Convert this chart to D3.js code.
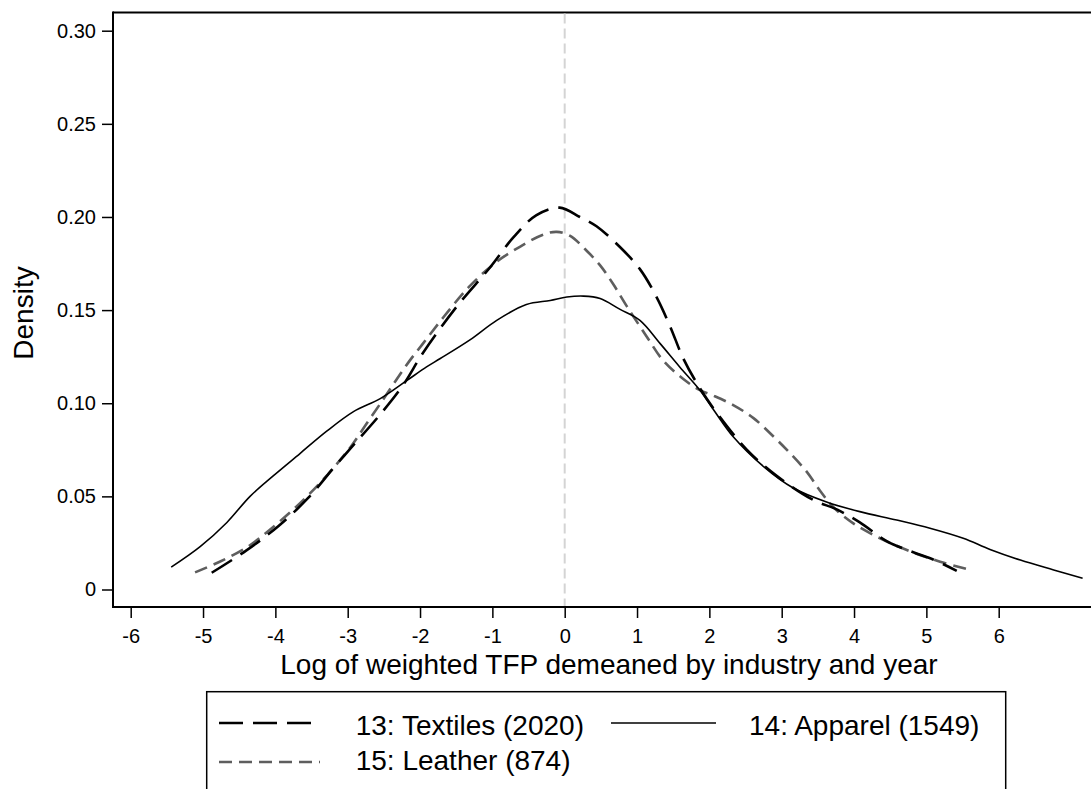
<!DOCTYPE html>
<html lang="en">
<head>
<meta charset="UTF-8">
<title>TFP density by industry</title>
<style>
  body { margin: 0; background: #fff; }
  text { font-family: "Liberation Sans", Arial, sans-serif; fill: #000; }
</style>
</head>
<body>
<svg id="chart"></svg>
<script src="https://cdnjs.cloudflare.com/ajax/libs/d3/7.8.5/d3.min.js"></script>
<script>
// kernel density estimates
const textilesX = [-4.88, -4.40, -3.96, -3.55, -3.18, -2.91, -2.55, -2.23, -1.96, -1.49, -1.03, -0.71, -0.39, -0.07,
  0.21, 0.44, 0.76, 1.04, 1.27, 1.46, 1.64, 1.87, 2.10, 2.52, 2.93, 3.44, 3.76, 4.08, 4.45, 4.82, 5.10, 5.42];
const textilesY = [0.009, 0.021, 0.034, 0.049, 0.066, 0.078, 0.094, 0.110, 0.127, 0.152, 0.173, 0.189, 0.201, 0.205,
  0.200, 0.195, 0.184, 0.172, 0.157, 0.141, 0.124, 0.108, 0.095, 0.075, 0.061, 0.048, 0.043, 0.036, 0.026, 0.020, 0.016, 0.010];

const apparelX = [-5.44, -5.04, -4.67, -4.35, -4.03, -3.66, -3.29, -2.92, -2.55, -2.19, -1.91, -1.72, -1.31, -0.94, -0.53,
  -0.20, 0.03, 0.26, 0.49, 0.76, 1.04, 1.32, 1.59, 1.87, 2.06, 2.33, 2.75, 3.16, 3.62, 4.08, 4.59, 5.05, 5.51, 5.88, 6.30, 6.76, 7.16];
const apparelY = [0.012, 0.023, 0.036, 0.050, 0.061, 0.073, 0.085, 0.0955, 0.1025, 0.112, 0.1195, 0.124, 0.134, 0.1445, 0.153,
  0.1552, 0.157, 0.1575, 0.1562, 0.1505, 0.1445, 0.132, 0.1195, 0.107, 0.0964, 0.082, 0.066, 0.0545, 0.047, 0.0418, 0.0373, 0.0329, 0.0275, 0.0215, 0.0158, 0.0105, 0.006];

const leatherX = [-5.11, -4.77, -4.40, -4.08, -3.71, -3.34, -2.97, -2.74, -2.51, -2.32, -2.14, -1.96, -1.68, -1.31, -0.94, -0.62,
  -0.30, -0.11, 0.07, 0.30, 0.49, 0.67, 0.86, 1.13, 1.36, 1.64, 1.87, 2.06, 2.33, 2.61, 2.89, 3.12, 3.35, 3.53, 3.72, 3.99, 4.36, 4.73, 5.19, 5.61];
const leatherY = [0.0092, 0.0149, 0.0225, 0.032, 0.0445, 0.059, 0.076, 0.089, 0.102, 0.113, 0.123, 0.132, 0.146, 0.163, 0.176, 0.184,
  0.1905, 0.192, 0.190, 0.182, 0.174, 0.164, 0.152, 0.136, 0.123, 0.113, 0.107, 0.104, 0.099, 0.092, 0.082, 0.073, 0.063, 0.053, 0.044, 0.0355, 0.0275, 0.0212, 0.0149, 0.0105];

const seriesNames = ['13: Textiles (2020)', '14: Apparel (1549)', '15: Leather (874)'];
const xTicks = [-6, -5, -4, -3, -2, -1, 0, 1, 2, 3, 4, 5, 6];
const yTicks = [0, 0.05, 0.10, 0.15, 0.20, 0.25, 0.30];
const yTickLabels = ['0', '0.05', '0.10', '0.15', '0.20', '0.25', '0.30'];
const xTitle = 'Log of weighted TFP demeaned by industry and year';
const yTitle = 'Density';

const width = 1091, height = 789;
const plot = { left: 113, top: 12.5, bottom: 607, right: width };

const svg = d3.select('#chart').attr('width', width).attr('height', height);

const x = d3.scaleLinear().domain([-6, 6]).range([130.7, 998.7]);
const y = d3.scaleLinear().domain([0, 0.30]).range([589.5, 30.7]);

// frame: left, top, bottom lines (plot runs off the right edge)
const frame = svg.append('g').attr('stroke', '#000').attr('stroke-width', 2).attr('fill', 'none');
frame.append('line').attr('x1', plot.left).attr('x2', plot.left).attr('y1', plot.top - 1).attr('y2', plot.bottom + 1);
frame.append('line').attr('x1', plot.left).attr('x2', plot.right).attr('y1', plot.top).attr('y2', plot.top);
frame.append('line').attr('x1', plot.left).attr('x2', plot.right).attr('y1', plot.bottom).attr('y2', plot.bottom);

// reference line at zero
svg.append('line')
  .attr('x1', x(0)).attr('x2', x(0))
  .attr('y1', plot.top + 1).attr('y2', plot.bottom - 1)
  .attr('stroke', '#d4d4d4').attr('stroke-width', 2)
  .attr('stroke-dasharray', '10,5');

const yAxis = svg.append('g')
  .attr('transform', `translate(${plot.left},0)`)
  .call(d3.axisLeft(y).tickValues(yTicks).tickFormat((d, i) => yTickLabels[i]).tickSize(11).tickPadding(6));

const xAxis = svg.append('g')
  .attr('transform', `translate(0,${plot.bottom})`)
  .call(d3.axisBottom(x).tickValues(xTicks).tickFormat(d => d).tickSize(11).tickPadding(11));

[yAxis, xAxis].forEach(a => {
  a.select('.domain').remove();
  a.selectAll('.tick line').attr('stroke', '#000').attr('stroke-width', 1.5);
  a.selectAll('.tick text').style('font-size', '20px').attr('fill', '#000')
    .style('font-family', '"Liberation Sans", Arial, sans-serif');
});

const line = d3.line()
  .x(d => x(d[0]))
  .y(d => y(d[1]))
  .curve(d3.curveCatmullRom.alpha(0.5));

const series = [
  { name: seriesNames[0], xs: textilesX, ys: textilesY, color: '#000', width: 2.6, dash: '24,10' },
  { name: seriesNames[1], xs: apparelX, ys: apparelY, color: '#000', width: 1.6, dash: null },
  { name: seriesNames[2], xs: leatherX, ys: leatherY, color: '#5e5e5e', width: 2.6, dash: '13,7' }
];

// draw leather first so the black curves sit on top
[series[2], series[1], series[0]].forEach(s => {
  svg.append('path')
    .datum(s.xs.map((v, i) => [v, s.ys[i]]))
    .attr('fill', 'none')
    .attr('stroke', s.color)
    .attr('stroke-width', s.width)
    .attr('stroke-dasharray', s.dash)
    .attr('d', line);
});

// axis titles
svg.append('text')
  .attr('x', 609).attr('y', 674)
  .attr('text-anchor', 'middle')
  .style('font-size', '28px')
  .text(xTitle);

svg.append('text')
  .attr('transform', 'translate(33,313) rotate(-90)')
  .attr('text-anchor', 'middle')
  .style('font-size', '28px')
  .text(yTitle);

// legend
const legend = svg.append('g');
legend.append('rect')
  .attr('x', 206.7).attr('y', 691.7)
  .attr('width', 1005.7 - 206.7).attr('height', 200)
  .attr('fill', 'none').attr('stroke', '#000').attr('stroke-width', 1.5);

const legendItems = [
  { s: series[0], x1: 219, x2: 320, ly: 723, tx: 355.7, ty: 735 },
  { s: series[1], x1: 611, x2: 716, ly: 723, tx: 749, ty: 735 },
  { s: series[2], x1: 219, x2: 320, ly: 762, tx: 355.7, ty: 770 }
];
legendItems.forEach(it => {
  legend.append('line')
    .attr('x1', it.x1).attr('x2', it.x2)
    .attr('y1', it.ly).attr('y2', it.ly)
    .attr('stroke', it.s.color)
    .attr('stroke-width', it.s.width)
    .attr('stroke-dasharray', it.s.dash);
  legend.append('text')
    .attr('x', it.tx).attr('y', it.ty)
    .style('font-size', '28px')
    .text(it.s.name);
});
</script>
</body>
</html>
